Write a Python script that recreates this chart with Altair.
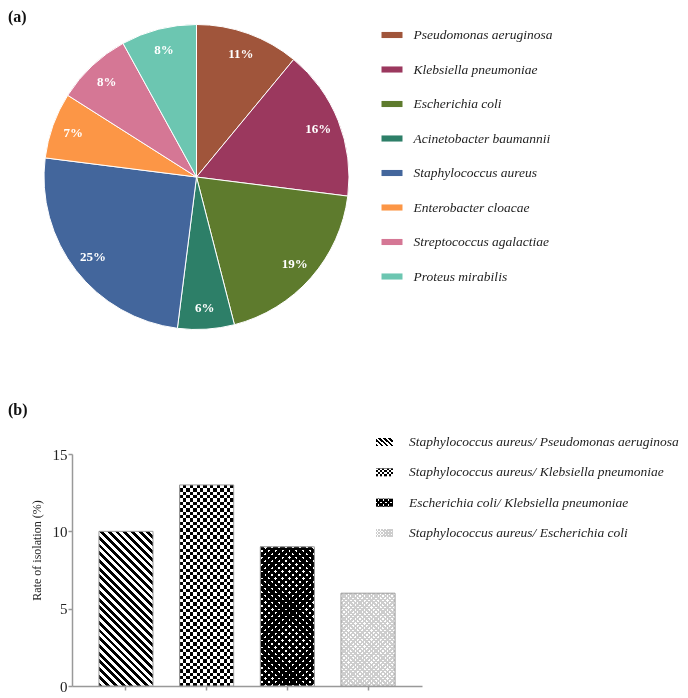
import math
import altair as alt
import pandas as pd

# ---------------- data ----------------
species = ["Pseudomonas aeruginosa", "Klebsiella pneumoniae", "Escherichia coli",
           "Acinetobacter baumannii", "Staphylococcus aureus", "Enterobacter cloacae",
           "Streptococcus agalactiae", "Proteus mirabilis"]
shares = [11, 16, 19, 6, 25, 7, 8, 8]
pie_colors = ["#A0553B", "#9B385E", "#5E7B2D", "#2D7F68", "#43669C", "#FC9646",
              "#D57795", "#6CC6B1"]

pairs = ["Staphylococcus aureus/ Pseudomonas aeruginosa",
         "Staphylococcus aureus/ Klebsiella pneumoniae",
         "Escherichia coli/ Klebsiella pneumoniae",
         "Staphylococcus aureus/ Escherichia coli"]
rates = [10, 13, 9, 6]
y_ticks = [0, 5, 10, 15]

FONT = "Liberation Serif"

pie_df = pd.DataFrame({"species": species, "share": shares,
                       "order": list(range(len(species))),
                       "label": [f"{v}%" for v in shares]})
bar_df = pd.DataFrame({"pair": pairs, "rate": rates})

# ---------------- pattern helpers (styling only) ----------------
CLEAR = "rgba(255,255,255,0)"


def grad(kind, W, H, period, on, off, frac):
    if kind == "h":
        x1, y1, x2, y2, L = 0, 0, 0, 1, H
    elif kind == "v":
        x1, y1, x2, y2, L = 0, 0, 1, 0, W
    else:
        k = (W + H) / (W * W + H * H)
        L = (W + H) / math.sqrt(2)
        if kind == "back":   # "\" lines
            x1, y1, x2, y2 = 0, 1, W * k, 1 - H * k
        else:                # "/" lines
            x1, y1, x2, y2 = 0, 0, W * k, H * k
    n = max(1, round(L / period))
    stops = []
    for i in range(n):
        a, b, c = i / n, (i + frac) / n, (i + 1) / n
        stops += [alt.GradientStop(offset=a, color=on), alt.GradientStop(offset=b, color=on),
                  alt.GradientStop(offset=b, color=off), alt.GradientStop(offset=c, color=off)]
    return alt.LinearGradient(gradient="linear", stops=stops, x1=x1, y1=y1, x2=x2, y2=y2)


def pattern_specs(idx, W, H, scale=1.0):
    """list of (fill, blend) layers making up the hatch pattern of bar idx"""
    if idx == 0:
        return [(grad("back", W, H, 5.4 * scale, "#000000", "#ffffff", 0.5), None)]
    if idx == 1:
        return [("#ffffff", None),
                (grad("h", W, H, 6.6 * scale, "#ffffff", CLEAR, 0.5), "difference"),
                (grad("v", W, H, 6.6 * scale, "#ffffff", CLEAR, 0.5), "difference")]
    if idx == 2:
        return [("#ffffff", None),
                (grad("back", W, H, 4.8 * scale, "#000000", CLEAR, 0.62), None),
                (grad("fwd", W, H, 4.8 * scale, "#000000", CLEAR, 0.62), None)]
    return [("#ffffff", None),
            (grad("back", W, H, 3.2 * scale, "#cdcdcd", CLEAR, 0.5), None),
            (grad("fwd", W, H, 3.2 * scale, "#cdcdcd", CLEAR, 0.5), None)]


# ---------------- (a) pie ----------------
PIE_W, PIE_H, R = 249, 300, 152.5
pie_base = alt.Chart(pie_df).encode(
    theta=alt.Theta("share:Q", stack=True),
    order=alt.Order("order:Q"),
)
arcs = pie_base.mark_arc(outerRadius=R, stroke="#ffffff", strokeWidth=1).encode(
    color=alt.Color(
        "species:N", sort=species,
        scale=alt.Scale(domain=species, range=pie_colors),
        legend=alt.Legend(
            orient="none", legendX=309.5, legendY=-2.5, title=None,
            symbolType="M-1,-0.29H1V0.29H-1Z", symbolSize=441, symbolStrokeWidth=0,
            labelFont=FONT, labelFontStyle="italic", labelFontSize=13.5,
            labelColor="#222222", rowPadding=17.5, labelOffset=11, labelLimit=400,
        ),
    )
)
pie_labels = pie_base.mark_text(radius=131, font=FONT, fontWeight="bold", fontSize=13,
                                color="#ffffff").encode(text="label:N")
top = alt.layer(arcs, pie_labels).properties(
    width=PIE_W, height=PIE_H,
    title=alt.TitleParams("(a)", anchor="start", frame="group", font=FONT,
                          fontSize=16, fontWeight="bold", color="#111111",
                          offset=-2, dx=-64),
)

# ---------------- (b) bars ----------------
BW, BH = 350, 232
P_IN, P_OUT = 0.33, 0.334
step = BW / (4 - P_IN + 2 * P_OUT)
band = step * (1 - P_IN)

X = alt.X("pair:N", sort=pairs,
          scale=alt.Scale(domain=pairs, paddingInner=P_IN, paddingOuter=P_OUT),
          axis=alt.Axis(labels=False, title=None, ticks=True, tickSize=4,
                        domainColor="#999999", tickColor="#999999",
                        domainWidth=1.5, tickWidth=1.5))
Y = alt.Y("rate:Q", scale=alt.Scale(domain=[0, 15]),
          axis=alt.Axis(values=y_ticks, title="Rate of isolation (%)", grid=False,
                        tickSize=4, labelPadding=1, titlePadding=9, titleY=96,
                        domainColor="#999999", tickColor="#999999",
                        domainWidth=1.5, tickWidth=1.5,
                        labelFont=FONT, labelFontSize=15, labelColor="#222222",
                        titleFont=FONT, titleFontSize=12, titleFontWeight="normal",
                        titleColor="#222222"))

bar_layers = []
for i, p in enumerate(pairs):
    H = rates[i] * BH / 15
    base = alt.Chart(bar_df).transform_filter(alt.datum.pair == p).encode(x=X, y=Y)
    for fill, blend in pattern_specs(i, band, H):
        kw = dict(fill=fill, strokeWidth=0, opacity=1)
        if blend:
            kw["blend"] = blend
        bar_layers.append(base.mark_bar(**kw))
    bar_layers.append(base.mark_bar(fill="#ffffff", fillOpacity=0, stroke="#9a9a9a",
                                    strokeWidth=1, opacity=1))

# custom hatch legend
LEG_RANGE = [-12, 79]
legY = alt.Y("pair:N", sort=pairs,
             scale=alt.Scale(type="point", domain=pairs, range=LEG_RANGE, padding=0),
             axis=None)
leg_layers = []
SW, SH = 17, 8
for i, p in enumerate(pairs):
    base = alt.Chart(bar_df).transform_filter(alt.datum.pair == p).encode(
        x=alt.value(312.5), y=legY)
    for fill, blend in pattern_specs(i, SW, SH, scale=0.7):
        kw = dict(shape="M-1,-0.47H1V0.47H-1Z", size=289, filled=True, fill=fill,
                  strokeWidth=0, opacity=1)
        if blend:
            kw["blend"] = blend
        leg_layers.append(base.mark_point(**kw))
leg_text = alt.Chart(bar_df).mark_text(
    align="left", baseline="middle", font=FONT, fontStyle="italic", fontSize=13.5,
    color="#222222").encode(x=alt.value(337), y=legY, text="pair:N")
legend_b = alt.layer(*leg_layers, leg_text)

bottom = alt.layer(alt.layer(*bar_layers), legend_b).resolve_scale(y="independent").properties(
    width=BW, height=BH,
    title=alt.TitleParams("(b)", anchor="start", font=FONT, fontSize=16,
                          fontWeight="bold", color="#111111", dx=-22, offset=17),
)

chart = alt.vconcat(top, bottom, spacing=70).properties(padding=0).configure(
    font=FONT, view=alt.ViewConfig(stroke=None))

chart.save("out.html", embed_options={"renderer": "svg", "actions": False})
